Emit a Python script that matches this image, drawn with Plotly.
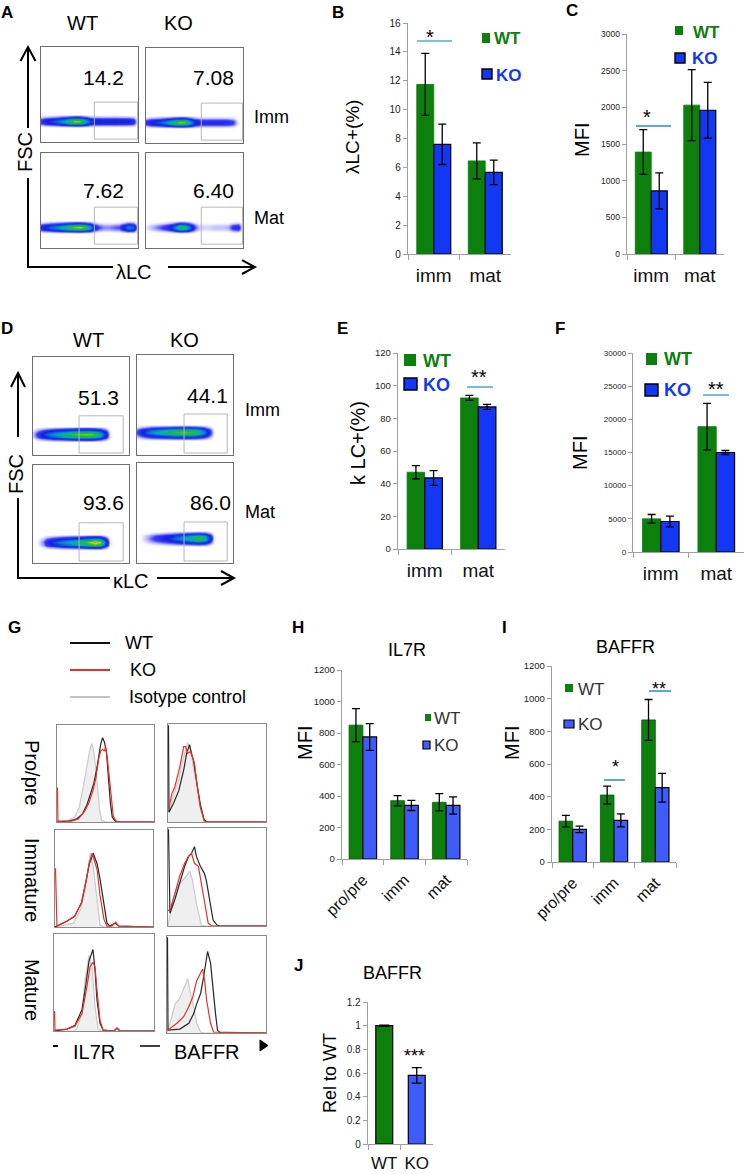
import plotly.graph_objects as go

W, H = 745, 1174
FONT = "Liberation Sans, Arial, sans-serif"

# ---------------- data ----------------
cats2 = ["imm", "mat"]
cats3 = ["pro/pre", "imm", "mat"]
catsJ = ["WT", "KO"]

B_wt, B_wt_err = [11.75, 6.45], [2.15, 1.25]
B_ko, B_ko_err = [7.6, 5.65], [1.4, 0.85]
C_wt, C_wt_err = [1390, 2030], [305, 485]
C_ko, C_ko_err = [860, 1960], [245, 380]
E_wt, E_wt_err = [47, 92.5], [4, 1.5]
E_ko, E_ko_err = [43.5, 87], [4.5, 1.5]
F_wt, F_wt_err = [5000, 18900], [650, 3500]
F_ko, F_ko_err = [4600, 15000], [800, 300]
H_wt, H_wt_err = [850, 370, 360], [105, 33, 55]
H_ko, H_ko_err = [775, 340, 340], [85, 32, 55]
I_wt, I_wt_err = [250, 410, 870], [35, 55, 125]
I_ko, I_ko_err = [200, 255, 455], [20, 40, 88]
J_vals, J_err = [1.0, 0.58], [0.005, 0.065]

# flow-cytometry density profiles along the x axis (0..100 step 5)
flow_x = [0, 5, 10, 15, 20, 25, 30, 35, 40, 45, 50, 55, 60, 65, 70, 75, 80, 85, 90, 95, 100]
flow_row_offsets_A = [-7, -4.5, -2, 0, 2, 4.5, 7]
flow_row_offsets_D = [-8, -5, -2.5, 0, 2.5, 5, 8]
flow_row_weights = [0.0, 0.35, 0.8, 1.0, 0.8, 0.35, 0.0]
A_wt_imm = [0.25, 0.35, 0.42, 0.48, 0.55, 0.65, 0.78, 0.88, 0.85, 0.65, 0.45, 0.38, 0.38, 0.36, 0.36, 0.38, 0.36, 0.36, 0.35, 0.3, 0]
A_ko_imm = [0.25, 0.35, 0.42, 0.48, 0.55, 0.65, 0.78, 0.87, 0.84, 0.62, 0.4, 0.32, 0.3, 0.3, 0.3, 0.3, 0.3, 0.28, 0.22, 0.05, 0]
A_wt_mat = [0.3, 0.4, 0.5, 0.55, 0.62, 0.72, 0.8, 0.86, 0.9, 0.8, 0.6, 0.35, 0.2, 0.15, 0.15, 0.18, 0.2, 0.35, 0.55, 0.5, 0]
A_ko_mat = [0.05, 0.1, 0.15, 0.2, 0.25, 0.35, 0.55, 0.78, 0.75, 0.5, 0.2, 0.1, 0.08, 0.08, 0.1, 0.1, 0.1, 0.12, 0.25, 0.3, 0]
D_wt_imm = [0.1, 0.25, 0.38, 0.48, 0.55, 0.62, 0.68, 0.74, 0.78, 0.82, 0.85, 0.86, 0.85, 0.8, 0.65, 0.4, 0.05, 0, 0, 0, 0]
D_ko_imm = [0.2, 0.35, 0.48, 0.56, 0.62, 0.68, 0.72, 0.76, 0.8, 0.82, 0.83, 0.82, 0.78, 0.7, 0.55, 0.3, 0.03, 0, 0, 0, 0]
D_wt_mat = [0, 0.05, 0.15, 0.3, 0.4, 0.48, 0.55, 0.6, 0.65, 0.7, 0.76, 0.82, 0.9, 0.97, 0.9, 0.5, 0.05, 0, 0, 0, 0]
D_ko_mat = [0, 0.05, 0.12, 0.18, 0.25, 0.3, 0.36, 0.42, 0.5, 0.55, 0.62, 0.7, 0.76, 0.8, 0.74, 0.45, 0.05, 0, 0, 0, 0]
A_numbers = ["14.2", "7.08", "7.62", "6.40"]
D_numbers = ["51.3", "44.1", "93.6", "86.0"]

# histogram curves (x, y in % of the plot box)
g_pro_il7r_iso = ([0, 10, 18, 23, 27, 31, 34, 36, 38, 40, 42, 44, 46, 50, 100],
                  [0, 1, 5, 15, 36, 60, 75, 81, 72, 55, 35, 12, 2, 0, 0])
g_pro_il7r_wt = ([0, 12, 20, 26, 31, 35, 38, 41, 43, 45, 47, 49, 51, 53, 55, 57, 60, 65, 100],
                 [0, 1, 3, 8, 18, 30, 40, 55, 67, 80, 87, 82, 72, 46, 20, 5, 1, 0, 0])
g_pro_il7r_ko = ([0, 0.5, 1, 15, 22, 29, 33, 37, 40, 43, 45, 47, 49, 50, 52, 54, 56, 58, 61, 65, 100],
                 [35, 35, 1, 1, 3, 12, 20, 32, 45, 65, 73, 75, 73, 78, 65, 45, 20, 6, 1, 0, 0])
g_pro_baffr_iso = ([0, 1, 6, 11, 14, 18, 20, 23, 26, 30, 33, 37, 40, 100],
                   [11, 11, 29, 43, 59, 73, 81, 73, 56, 32, 15, 2, 0, 0])
g_pro_baffr_wt = ([0, 0.5, 1, 6, 11, 16, 19, 22, 24, 26, 30, 33, 37, 40, 100],
                  [98, 98, 10, 20, 32, 53, 70, 79, 70, 63, 36, 18, 2, 0, 0])
g_pro_baffr_ko = ([0, 1, 4, 7, 12, 16, 18, 20, 23, 27, 30, 33, 37, 40, 100],
                  [15, 15, 29, 36, 56, 77, 77, 70, 72, 60, 36, 15, 1, 0, 0])
g_imm_il7r_iso = ([0, 19, 26, 31, 34, 36, 39, 43, 46, 50, 100],
                  [0, 4, 18, 38, 62, 76, 62, 25, 2, 0, 0])
g_imm_il7r_wt = ([0, 2, 12, 20, 27, 32, 35, 39, 43, 46, 50, 53, 56, 61, 65, 100],
                 [0, 1, 6, 11, 25, 49, 65, 76, 65, 49, 21, 4, 1, 4, 1, 0])
g_imm_il7r_ko = ([0, 0.5, 2, 12, 20, 27, 32, 35, 38, 43, 46, 50, 53, 58, 62, 65, 100],
                 [60, 60, 1, 6, 11, 25, 49, 66, 76, 59, 32, 8, 1, 1, 5, 1, 0])
g_imm_baffr_iso = ([0, 2, 5, 10, 15, 19, 22, 25, 29, 34, 37, 100],
                   [0, 11, 27, 41, 47, 51, 56, 47, 23, 1, 0, 0])
g_imm_baffr_wt = ([0, 0.5, 2, 7, 12, 17, 21, 24, 27, 29, 33, 37, 39, 43, 46, 50, 53, 100],
                  [98, 98, 13, 27, 44, 61, 71, 74, 81, 71, 61, 54, 47, 23, 6, 1, 0, 0])
g_imm_baffr_ko = ([0, 2, 7, 12, 17, 21, 24, 27, 31, 34, 38, 41, 45, 100],
                  [16, 16, 33, 51, 64, 71, 74, 64, 61, 44, 20, 3, 0, 0])
g_mat_il7r_iso = ([0, 20, 23, 28, 31, 33, 35, 38, 41, 44, 47, 100],
                  [0, 0, 3, 18, 52, 66, 78, 66, 25, 3, 0, 0])
g_mat_il7r_wt = ([0, 13, 21, 28, 32, 35, 39, 41, 43, 46, 49, 60, 63, 66, 100],
                 [0, 2, 6, 22, 49, 72, 84, 63, 32, 8, 1, 0, 3, 0, 0])
g_mat_il7r_ko = ([0, 0.5, 1, 13, 21, 28, 33, 36, 39, 41, 43, 46, 49, 60, 63, 66, 100],
                 [20, 20, 1, 2, 5, 18, 46, 66, 71, 66, 42, 11, 1, 0, 3, 0, 0])
g_mat_baffr_iso = ([0, 2, 5, 8, 12, 15, 18, 21, 23, 27, 30, 34, 37, 100],
                   [0, 6, 17, 30, 34, 41, 48, 56, 44, 27, 10, 1, 0, 0])
g_mat_baffr_wt = ([0, 0.5, 1, 13, 22, 27, 30, 34, 37, 39, 41, 44, 46, 49, 51, 54, 100],
                  [98, 98, 3, 4, 10, 20, 30, 41, 58, 72, 84, 72, 48, 20, 3, 0, 0])
g_mat_baffr_ko = ([0, 2, 10, 17, 22, 26, 30, 34, 36, 38, 40, 44, 47, 100],
                  [4, 4, 10, 17, 27, 37, 54, 63, 66, 54, 34, 10, 1, 0])

# ---------------- styles ----------------
GREEN = "#0d7f0d"
BLUE1 = "#1238f5"
BLUE2 = "#3f5cfb"
AX = "#a0a0a0"
SIG = "#5aaad8"
FLOW_CS = [[0, "rgba(255,255,255,0)"], [0.06, "rgba(190,190,255,0.5)"], [0.2, "#3b3bff"],
           [0.35, "#1020dd"], [0.5, "#0a70e0"], [0.62, "#00b0b8"], [0.72, "#12b64c"],
           [0.82, "#3cc81e"], [0.9, "#c8dc14"], [0.96, "#ff9a00"], [1.0, "#ff2a00"]]

fig = go.Figure()
shapes = []
annots = []
count = [0]


def px(x):
    return x / W


def py(y):
    return 1 - y / H


def new_axes(x0, x1, y0, y1, xa, ya):
    count[0] += 1
    n = count[0]
    sx = "" if n == 1 else str(n)
    fig.update_layout({"xaxis" + sx: dict(xa, domain=[px(x0), px(x1)], anchor="y" + sx, automargin=False),
                       "yaxis" + sx: dict(ya, domain=[py(y1), py(y0)], anchor="x" + sx, automargin=False)})
    return "x" + sx, "y" + sx


def text(x, y, s, size, color="black", bold=False, angle=0, xanchor="center"):
    if bold:
        s = "<b>" + s + "</b>"
    annots.append(dict(x=px(x), y=py(y), xref="paper", yref="paper", text=s, showarrow=False,
                       textangle=angle, xanchor=xanchor, yanchor="middle",
                       font=dict(size=size, color=color, family=FONT)))


def line(x0, y0, x1, y1, color="black", width=2):
    shapes.append(dict(type="line", xref="paper", yref="paper", x0=px(x0), y0=py(y0), x1=px(x1), y1=py(y1),
                       line=dict(color=color, width=width)))


def path(pts, color="black", width=2, fill=None):
    d = "M " + " L ".join(f"{px(a):.5f},{py(b):.5f}" for a, b in pts)
    if fill:
        d += " Z"
    shapes.append(dict(type="path", xref="paper", yref="paper", path=d,
                       line=dict(color=color, width=width), fillcolor=fill))


def rect(x0, y0, x1, y1, fill, edge=None, ew=0):
    shapes.append(dict(type="rect", xref="paper", yref="paper", x0=px(x0), y0=py(y1), x1=px(x1), y1=py(y0),
                       fillcolor=fill, line=dict(color=edge or fill, width=ew)))


def bar_panel(box, cats, wt, wte, ko, koe, ymax, dtick, tfs, xfs, blue, angle=0, fmt=None, green_edge=GREEN):
    x0, x1, y0, y1 = box
    xa = dict(type="category", range=[-0.5, len(cats) - 0.5], showline=True, linecolor=AX, linewidth=1.3,
              ticks="outside", tickson="boundaries", ticklen=5, tickcolor=AX, showgrid=False, zeroline=False,
              tickfont=dict(size=xfs, color="#111", family=FONT), tickangle=angle, ticklabelstandoff=4)
    ya = dict(range=[0, ymax], tick0=0, dtick=dtick, showline=True, linecolor=AX, linewidth=1.3,
              ticks="outside", ticklen=4, tickcolor=AX, showgrid=False, zeroline=False,
              tickfont=dict(size=tfs, color="#222", family=FONT))
    if fmt:
        ya["tickformat"] = fmt
    xr, yr = new_axes(x0, x1, y0, y1, xa, ya)
    eb = dict(color="black", thickness=1.3, width=4)
    fig.add_trace(go.Bar(x=cats, y=wt, error_y=dict(type="data", array=wte, **eb),
                         marker=dict(color=GREEN, line=dict(color=green_edge, width=0.8)),
                         xaxis=xr, yaxis=yr, showlegend=False, hoverinfo="skip"))
    fig.add_trace(go.Bar(x=cats, y=ko, error_y=dict(type="data", array=koe, **eb),
                         marker=dict(color=blue, line=dict(color="black", width=1.2)),
                         xaxis=xr, yaxis=yr, showlegend=False, hoverinfo="skip"))


def flow_panel(box, profile, center, offsets, gate):
    x0, x1, y0, y1 = box
    ax = dict(range=[0, 100], showline=True, mirror=True, linecolor="#6e6e6e", linewidth=1.2,
              showticklabels=False, ticks="", showgrid=False, zeroline=False)
    xr, yr = new_axes(x0, x1, y0, y1, ax, ax)
    z = [[w * v for v in profile] for w in flow_row_weights]
    fig.add_trace(go.Heatmap(x=flow_x, y=[center + o for o in offsets], z=z, zmin=0, zmax=1,
                             colorscale=FLOW_CS, showscale=False, zsmooth="best", hoverinfo="skip",
                             xaxis=xr, yaxis=yr))
    shapes.append(dict(type="rect", xref=xr, yref=yr, x0=gate[0], x1=gate[1], y0=gate[2], y1=gate[3],
                       line=dict(color="#b8b8b8", width=1)))


def hist_panel(box, iso, wt, ko):
    x0, x1, y0, y1 = box
    ax = dict(range=[0, 100], showline=True, mirror=True, linecolor="#8a8a8a", linewidth=1.2,
              showticklabels=False, ticks="", showgrid=False, zeroline=False)
    xr, yr = new_axes(x0, x1, y0, y1, ax, dict(ax, range=[0, 100]))
    fig.add_trace(go.Scatter(x=iso[0], y=iso[1], mode="lines", fill="tozeroy", fillcolor="#efefef",
                             line=dict(color="#cacaca", width=1.2), xaxis=xr, yaxis=yr,
                             showlegend=False, hoverinfo="skip"))
    fig.add_trace(go.Scatter(x=wt[0], y=wt[1], mode="lines", line=dict(color="#262626", width=1.2),
                             xaxis=xr, yaxis=yr, showlegend=False, hoverinfo="skip"))
    fig.add_trace(go.Scatter(x=ko[0], y=ko[1], mode="lines", line=dict(color="#e8302a", width=1.2),
                             xaxis=xr, yaxis=yr, showlegend=False, hoverinfo="skip"))


# ---------------- panel A ----------------
text(7, 13, "A", 17, bold=True)
text(82, 23, "WT", 20)
text(178, 23, "KO", 20)
flow_panel((41, 138, 47, 142), A_wt_imm, 22, flow_row_offsets_A, (55, 99.5, 3, 42))
flow_panel((146, 243, 48, 143), A_ko_imm, 22, flow_row_offsets_A, (57, 99.5, 3, 42))
flow_panel((41, 138, 153, 248), A_wt_mat, 22, flow_row_offsets_A, (55, 99.5, 4, 43))
flow_panel((146, 243, 153, 248), A_ko_mat, 22, flow_row_offsets_A, (57, 99.5, 4, 43))
text(104, 77, A_numbers[0], 21)
text(213, 77, A_numbers[1], 21)
text(104, 190, A_numbers[2], 21)
text(213, 190, A_numbers[3], 21)
text(252, 117, "Imm", 18, xanchor="left")
text(252, 218, "Mat", 18, xanchor="left")
line(28, 267, 28, 178)
line(28, 128, 28, 48)
path([(20.5, 61), (28, 47), (35.5, 61)])
text(25, 152, "FSC", 20, angle=-90)
line(27, 267, 113, 267)
text(134, 272, "λLC", 20)
line(168, 267, 254, 267)
path([(242, 260), (255, 267), (242, 274)])

# ---------------- panel B ----------------
text(338, 12, "B", 17, bold=True)
bar_panel((408, 511, 23, 254), cats2, B_wt, B_wt_err, B_ko, B_ko_err, 16, 2, 10, 19, BLUE1)
text(352, 137, "λLC+(%)", 19, angle=-90)
text(430, 37, "*", 20)
line(417, 41, 452, 41, SIG, 1.6)
rect(482, 33, 490, 43, GREEN)
text(492, 38, "WT", 17, color=GREEN, bold=True, xanchor="left")
rect(482, 69, 492, 79, BLUE1, "black", 1.4)
text(494, 75, "KO", 17, color=BLUE1, bold=True, xanchor="left")

# ---------------- panel C ----------------
text(572, 10, "C", 17, bold=True)
bar_panel((627, 724, 34, 254), cats2, C_wt, C_wt_err, C_ko, C_ko_err, 3000, 500, 8.5, 19, BLUE1)
text(582, 140, "MFI", 20, angle=-90)
text(647, 117, "*", 20)
line(636, 126, 671, 126, SIG, 1.8)
rect(675, 26, 683, 35, GREEN)
text(691, 32, "WT", 17, color=GREEN, bold=True, xanchor="left")
rect(675, 53, 685, 63, BLUE1, "black", 1.4)
text(690, 59, "KO", 17, color=BLUE1, bold=True, xanchor="left")

# ---------------- panel D ----------------
text(7, 328, "D", 17, bold=True)
text(88, 340, "WT", 20)
text(184, 340, "KO", 20)
flow_panel((33, 129, 357, 455), D_wt_imm, 21, flow_row_offsets_D, (48, 94, 2, 40))
flow_panel((137, 233, 355, 455), D_ko_imm, 23, flow_row_offsets_D, (49, 94, 2, 41))
flow_panel((33, 129, 465, 563), D_wt_mat, 21, flow_row_offsets_D, (48, 94, 2, 41))
flow_panel((137, 233, 463, 563), D_ko_mat, 25, flow_row_offsets_D, (49, 94, 2, 41))
text(98, 398, D_numbers[0], 21)
text(207, 395, D_numbers[1], 21)
text(104, 503, D_numbers[2], 21)
text(210, 502, D_numbers[3], 21)
text(243, 410, "Imm", 18, xanchor="left")
text(243, 512, "Mat", 18, xanchor="left")
line(18, 578, 18, 498)
line(18, 437, 18, 374)
path([(11, 387), (18, 373), (25, 387)])
text(16, 474, "FSC", 20, angle=-90)
line(17, 578, 110, 578)
text(131, 581, "κLC", 20)
line(157, 578, 233, 578)
path([(221, 571), (234, 578), (221, 585)])

# ---------------- panel E ----------------
text(342, 328, "E", 17, bold=True)
bar_panel((398, 505, 353, 549), cats2, E_wt, E_wt_err, E_ko, E_ko_err, 120, 20, 9.5, 19, BLUE1)
text(358, 443, "k LC+(%)", 20, angle=-90)
text(479, 377, "**", 20)
line(467, 387, 493, 387, SIG, 1.6)
rect(404, 354, 416, 366, GREEN)
text(421, 361, "WT", 18, color=GREEN, bold=True, xanchor="left")
rect(404, 378, 417, 390, BLUE1, "black", 1.4)
text(421, 385, "KO", 18, color=BLUE1, bold=True, xanchor="left")

# ---------------- panel F ----------------
text(560, 328, "F", 17, bold=True)
bar_panel((633, 744, 353, 552), cats2, F_wt, F_wt_err, F_ko, F_ko_err, 30000, 5000, 8, 19, BLUE1, fmt="d")
text(580, 453, "MFI", 20, angle=-90)
text(716, 389, "**", 20)
line(703, 395, 729, 395, SIG, 1.6)
rect(646, 353, 657, 365, GREEN)
text(662, 359, "WT", 18, color=GREEN, bold=True, xanchor="left")
rect(645, 384, 658, 396, BLUE1, "black", 1.4)
text(662, 390, "KO", 18, color=BLUE1, bold=True, xanchor="left")

# ---------------- panel G ----------------
text(15, 627, "G", 17, bold=True)
line(70, 643, 110, 643, "#111", 2)
text(123, 643, "WT", 18, xanchor="left")
line(70, 670, 110, 670, "#e8302a", 2)
text(128, 670, "KO", 18, xanchor="left")
line(70, 697, 110, 697, "#c4c4c4", 2)
text(127, 697, "Isotype control", 18, xanchor="left")
hist_panel((57, 154, 725, 822), g_pro_il7r_iso, g_pro_il7r_wt, g_pro_il7r_ko)
hist_panel((168, 266, 724, 822), g_pro_baffr_iso, g_pro_baffr_wt, g_pro_baffr_ko)
hist_panel((55, 153, 830, 927), g_imm_il7r_iso, g_imm_il7r_wt, g_imm_il7r_ko)
hist_panel((168, 266, 828, 926), g_imm_baffr_iso, g_imm_baffr_wt, g_imm_baffr_ko)
hist_panel((54, 154, 934, 1031), g_mat_il7r_iso, g_mat_il7r_wt, g_mat_il7r_ko)
hist_panel((167, 266, 936, 1033), g_mat_baffr_iso, g_mat_baffr_wt, g_mat_baffr_ko)
text(32, 773, "Pro/pre", 20, angle=90)
text(32, 880, "Immature", 20, angle=90)
text(32, 990, "Mature", 20, angle=90)
line(53, 1046, 58, 1046, "black", 2)
text(94, 1052, "IL7R", 20)
line(140, 1046, 160, 1046, "black", 1.5)
text(207, 1052, "BAFFR", 20)
path([(260, 1040), (268, 1045.5), (260, 1051)], "black", 1, fill="black")

# ---------------- panel H ----------------
text(298, 627, "H", 17, bold=True)
text(407, 650, "IL7R", 18)
bar_panel((342, 467, 670, 859), cats3, H_wt, H_wt_err, H_ko, H_ko_err, 1200, 200, 9.5, 16, BLUE2, angle=-45,
          green_edge="#0a5a0a")
text(305, 743, "MFI", 20, angle=-90)
rect(425, 714, 431, 721, GREEN)
text(432, 718, "WT", 17, color="#333", xanchor="left")
rect(423, 741, 430, 749, BLUE2, "black", 1.2)
text(432, 745, "KO", 17, color="#333", xanchor="left")

# ---------------- panel I ----------------
text(504, 627, "I", 17, bold=True)
text(625, 647, "BAFFR", 18)
bar_panel((552, 676, 666, 862), cats3, I_wt, I_wt_err, I_ko, I_ko_err, 1200, 200, 9.5, 16, BLUE2, angle=-45,
          green_edge="#0a5a0a")
text(512, 743, "MFI", 20, angle=-90)
text(615, 767, "*", 18)
line(604, 780, 625, 780, SIG, 2)
text(659, 689, "**", 18)
line(649, 691, 671, 691, SIG, 2)
rect(565, 684, 573, 692, GREEN)
text(576, 689, "WT", 17, color="#333", xanchor="left")
rect(564, 720, 574, 728, BLUE2, "black", 1.2)
text(576, 724, "KO", 17, color="#333", xanchor="left")

# ---------------- panel J ----------------
text(298, 965, "J", 17, bold=True)
text(393, 973, "BAFFR", 18)
xa_j = dict(type="category", range=[-0.5, 1.5], showline=True, linecolor=AX, linewidth=1.3, ticks="outside",
            tickson="boundaries", ticklen=5, tickcolor=AX, showgrid=False, zeroline=False, tickangle=0,
            tickfont=dict(size=17, color="#111", family=FONT), ticklabelstandoff=3)
ya_j = dict(range=[0, 1.2], tick0=0, dtick=0.2, showline=True, linecolor=AX, linewidth=1.3, ticks="outside",
            ticklen=4, tickcolor=AX, showgrid=False, zeroline=False,
            tickfont=dict(size=10, color="#222", family=FONT))
xj, yj = new_axes(368, 433, 1002, 1144, xa_j, ya_j)
fig.add_trace(go.Bar(x=catsJ, y=J_vals, width=0.52,
                     error_y=dict(type="data", array=J_err, color="black", thickness=1.3, width=5),
                     marker=dict(color=[GREEN, BLUE2], line=dict(color="black", width=1.2)),
                     xaxis=xj, yaxis=yj, showlegend=False, hoverinfo="skip"))
text(330, 1073, "Rel to WT", 18, angle=-90)
text(414, 1056, "***", 18)

fig.update_layout(template="none", width=W, height=H,
                  margin=dict(l=0, r=0, t=0, b=0, pad=0, autoexpand=False),
                  paper_bgcolor="white", plot_bgcolor="white", barmode="group", bargap=0.34, bargroupgap=0,
                  font=dict(family=FONT, color="black"), shapes=shapes, annotations=annots,
                  showlegend=False)
fig.write_html("out.html", config={"displayModeBar": False, "staticPlot": True},
               post_script="document.body.style.margin='0';document.body.style.overflow='hidden';")
